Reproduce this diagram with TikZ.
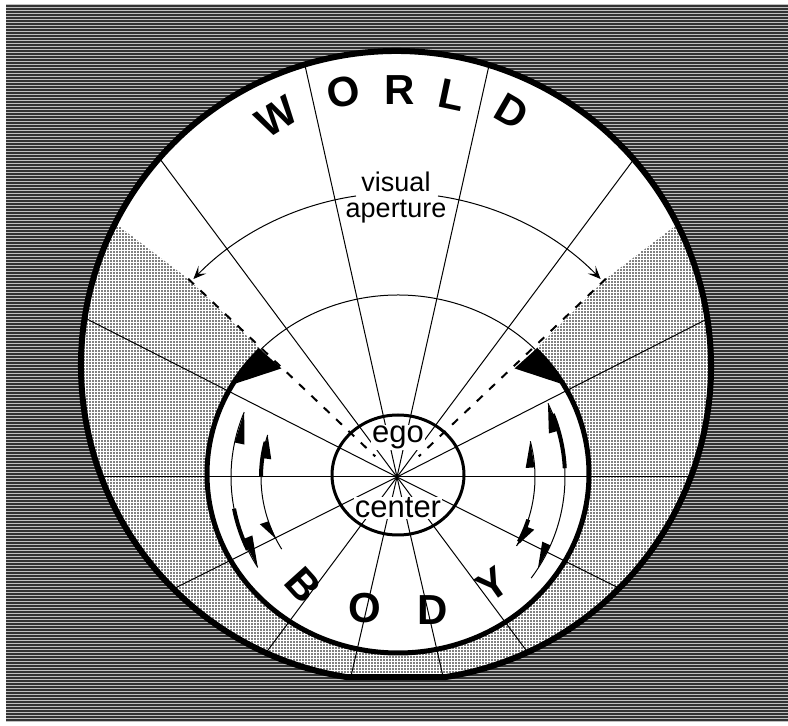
\documentclass[tikz,border=0pt]{standalone}
\usepackage{fontspec}
\setmainfont{Liberation Sans}
\usetikzlibrary{calc,patterns,arrows.meta}
\pgfdeclarepatternformonly{stipple}{\pgfqpoint{-1pt}{-1pt}}{\pgfqpoint{1pt}{1pt}}{\pgfqpoint{3pt}{3pt}}{\pgfpathcircle{\pgfqpoint{0pt}{0pt}}{0.85pt}\pgfusepath{fill}}
\newcommand{\harpbarb}[4]{\fill ($(E)+(#1:#2)$) -- ($(E)+(#3:#2)$) -- ($(E)+(#3:#4)$) -- cycle;}
\begin{document}
\begin{tikzpicture}[x=1pt,y=1pt,
  thinline/.style={line width=1pt},
  bigletter/.style={font=\bfseries\fontsize{42}{42}\selectfont, inner sep=0pt},
  labeltext/.style={font=\fontsize{27}{26}\selectfont, inner sep=0pt, align=center},
  egotext/.style={font=\fontsize{31}{33}\selectfont, inner sep=1pt, fill=white},
  aperarrow/.style={line width=1pt, -{Stealth[length=13pt,width=11pt,inset=6pt]}},
  dashline/.style={line width=2pt, dash pattern=on 8pt off 9pt},
  sidearc/.style={line width=1pt},
  thickseg/.style={line width=4pt}]

\useasboundingbox (0,0) rectangle (788,726);
\fill[white] (0,0) rectangle (788,726);
% striped background
\fill[black!80] (6,4) rectangle (788,722);
\foreach \i in {0,...,239} \fill[black!25] (6,{4+3*\i}) rectangle (788,{5+3*\i});

\coordinate (C) at (396,360);
\coordinate (E) at (397,249);
\coordinate (B) at (398,252);
\coordinate (G) at (398,251);

% world disc
\fill[white] ($(C)+(279.1:315)$) arc[start angle=279.1,end angle=620.9,radius=315] -- cycle;

% stippled region
\begin{scope}
\clip ($(C)+(279.1:315)$) arc[start angle=279.1,end angle=620.9,radius=315] -- cycle;
\fill[pattern=stipple] ($(E)+(136.5:288)$) -- (30,567) -- (-10,-10) -- (800,-10) -- (763,567) -- ($(E)+(43.5:288)$) -- ($(B)+(44:191 and 179)$) arc[start angle=44,end angle=-224,x radius=191,y radius=179] -- cycle;
\end{scope}

% radial lines
\begin{scope}
\clip ($(C)+(279.1:315)$) arc[start angle=279.1,end angle=620.9,radius=315] -- cycle;
\foreach \a in {77.4,102.6,53.3,126.7,27,153,0,180,-26.6,206.6,-53.3,233.3,-77,257}
  \draw[thinline] (E) -- ++(\a:500);
\end{scope}

% visual aperture arcs
\draw[aperarrow] ($(E)+(98.3:284)$) arc[start angle=98.3,end angle=135.8,radius=284];
\draw[aperarrow] ($(E)+(81.7:284)$) arc[start angle=81.7,end angle=44.2,radius=284];

% dashed aperture limits
\draw[dashline] ($(E)+(136.5:288)$) -- ($(E)+(136.5:30)$);
\draw[dashline] ($(E)+(43.5:288)$) -- ($(E)+(43.5:30)$);

% body outline
\draw[thinline] ($(B)+(44:191 and 179)$) arc[start angle=44,end angle=136,x radius=191,y radius=179];
\draw[line width=5pt] ($(B)+(136:191 and 179)$) arc[start angle=136,end angle=404,x radius=191,y radius=179];
\fill ($(B)+(136:191 and 179)$) -- ($(B)+(136:162 and 152)$) -- ($(B)+(150:191 and 179)$) -- cycle;
\fill ($(B)+(44:191 and 179)$) -- ($(B)+(44:162 and 152)$) -- ($(B)+(30:191 and 179)$) -- cycle;

% side arrows, left
\draw[sidearc] ($(E)+(157:166)$) arc[start angle=157,end angle=213,radius=166];
\draw[thickseg] ($(E)+(191:166)$) arc[start angle=191,end angle=206,radius=166];
\harpbarb{157}{166}{168}{156}
\harpbarb{213}{166}{202}{156}
\draw[sidearc] ($(E)+(162:136)$) arc[start angle=162,end angle=212,radius=136];
\draw[thickseg] ($(E)+(165:136)$) arc[start angle=165,end angle=180,radius=136];
\harpbarb{162}{136}{172}{127}
\harpbarb{207}{136}{199}{145}
% side arrows, right
\draw[sidearc] ($(E)+(26:168)$) arc[start angle=26,end angle=-37,radius=168];
\draw[thickseg] ($(E)+(22:168)$) arc[start angle=22,end angle=3,radius=168];
\harpbarb{26}{168}{16}{158}
\harpbarb{-33}{168}{-24}{159}
\draw[sidearc] ($(E)+(15:138)$) arc[start angle=15,end angle=-30,radius=138];
\draw[thickseg] ($(E)+(-18:138)$) arc[start angle=-18,end angle=-28,radius=138];
\harpbarb{15}{138}{4}{129}
\harpbarb{-30}{138}{-21}{147}

% ego centre
\node[egotext, anchor=base] (ego) at (398,283) {ego};
\node[egotext, anchor=base] (ctr) at (398,208) {center};
\draw[line width=3pt] (G) ellipse[x radius=66, y radius=60];

% visual aperture label
\node[labeltext, anchor=north] (vis) at (396,554) {visual\\aperture};

% world outline
\draw[line width=6pt] ($(C)+(279.1:315)$) arc[start angle=279.1,end angle=620.9,radius=315] -- cycle;

% WORLD
\node[bigletter, rotate=32] (w1) at (277,609) {W};
\node[bigletter, rotate=12] (w2) at (343,634) {O};
\node[bigletter] (w3) at (400,636) {R};
\node[bigletter, rotate=-12] (w4) at (452,631) {L};
\node[bigletter, rotate=-30] (w5) at (512,614) {D};
% BODY
\node[bigletter, rotate=-48] (b1) at (303,141) {B};
\node[bigletter] (b2) at (365,118) {O};
\node[bigletter] (b3) at (433,116) {D};
\node[bigletter, rotate=35] (b4) at (493,141) {Y};
\end{tikzpicture}
\end{document}
